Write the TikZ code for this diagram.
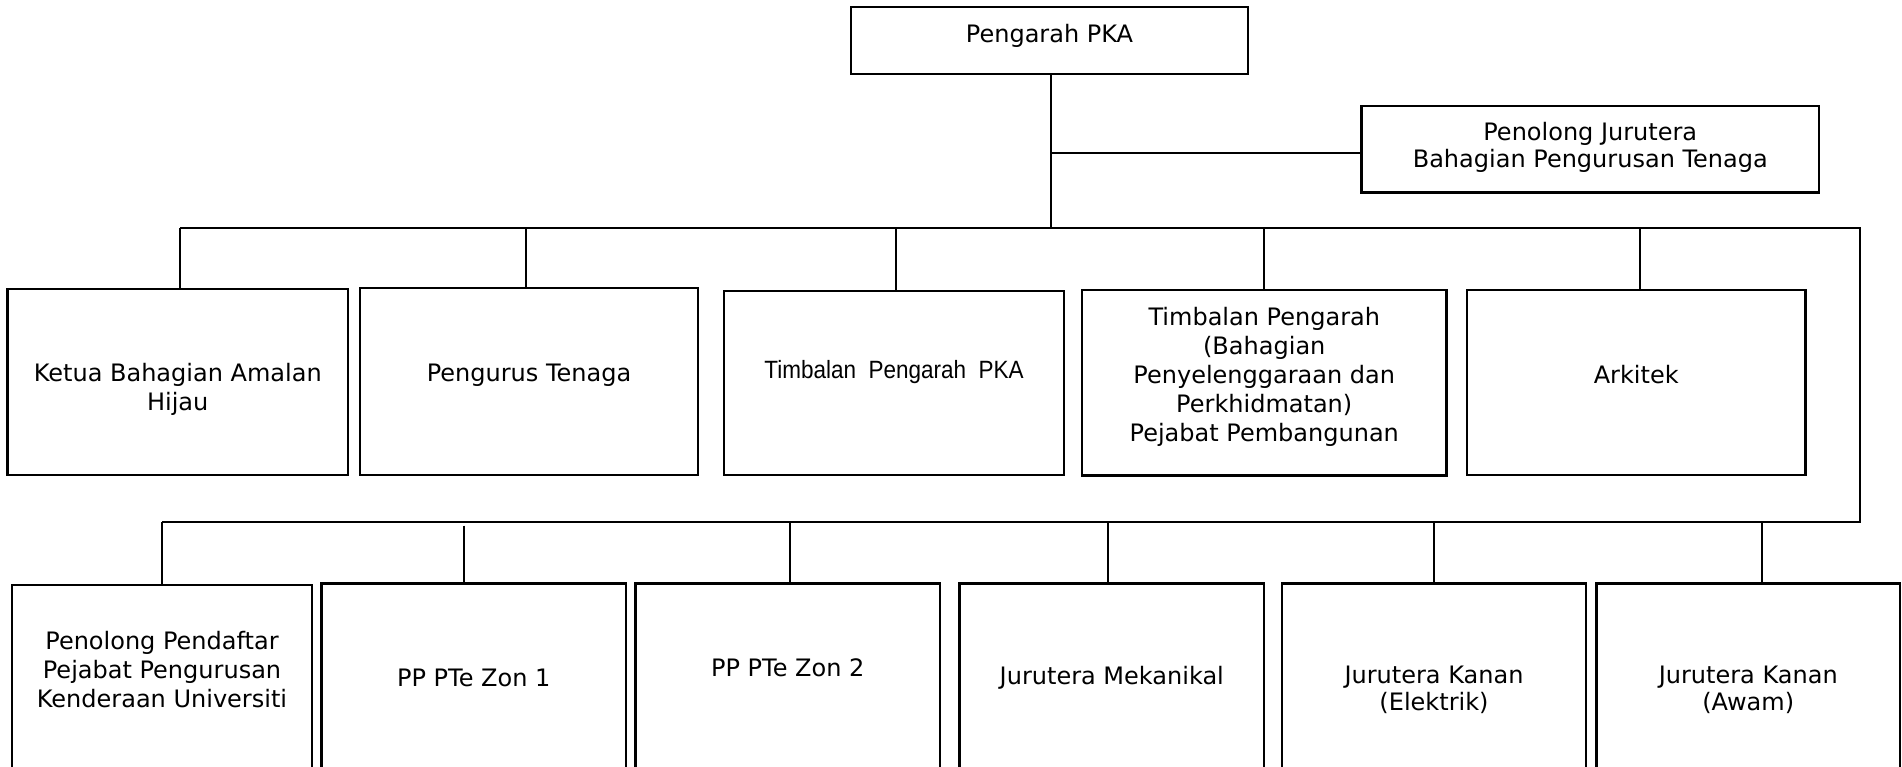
\documentclass[tikz,border=0pt]{standalone}
\usepackage{fontspec}
\setmainfont{DejaVu Sans}
\newfontfamily\arialf{Liberation Sans}[FakeStretch=0.9]
\usetikzlibrary{fit}
\begin{document}
\begin{tikzpicture}[x=1pt,y=-1pt,
  box/.style={draw, line width=2.4pt, inner sep=0pt},
  lbl/.style={align=center, font=\fontsize{24}{29}\selectfont, inner sep=0pt},
  tight/.style={font=\fontsize{24}{26.7}\selectfont},
  bus/.style={line width=2.4pt},
  drop/.style={line width=2pt}]
\useasboundingbox (0,0) rectangle (1902,767);
\clip (0,0) rectangle (1902,767);
% boxes
\node[box, fit={(851,7.3)(1248,74)}] (top) {};
\node[box, fit={(1361.5,106)(1819,192.5)}] (pen) {};
\node[box, fit={(7.5,289)(348,475)}] (a1) {};
\node[box, fit={(360,288)(698,475)}] (a2) {};
\node[box, fit={(724,291)(1064,475)}] (a3) {};
\node[box, fit={(1082,290)(1446.5,475.5)}] (a4) {};
\node[box, fit={(1467,290)(1805.5,475)}] (a5) {};
\node[box, fit={(12,585)(312,800)}] (b1) {};
\node[box, fit={(321.5,583.3)(626,800)}] (b2) {};
\node[box, fit={(635.6,583.3)(940,800)}] (b3) {};
\node[box, fit={(959.6,583.3)(1264,800)}] (b4) {};
\node[box, fit={(1282,583.3)(1586,800)}] (b5) {};
\node[box, fit={(1596.4,583.3)(1900,800)}] (b6) {};
% texts
\node[lbl] (ttop) at (top.center |- 0,36) {Pengarah PKA};
\node[lbl, tight] (tpen) at (pen.center |- 0,147.5) {Penolong Jurutera\\Bahagian Pengurusan Tenaga};
\node[lbl] (ta1) at (a1.center |- 0,389) {Ketua Bahagian Amalan\\Hijau};
\node[lbl] (ta2) at (a2.center |- 0,375) {Pengurus Tenaga};
\node[inner sep=0pt, font=\arialf\fontsize{25}{29}\selectfont] (ta3) at (a3.center |- 0,372) {Timbalan~~Pengarah~~PKA};
\node[lbl] (ta4) at (a4.center |- 0,377) {Timbalan Pengarah\\(Bahagian\\Penyelenggaraan dan\\Perkhidmatan)\\Pejabat Pembangunan};
\node[lbl] (ta5) at (a5.center |- 0,375) {Arkitek};
\node[lbl] (tb1) at (b1.center |- 0,670) {Penolong Pendaftar\\Pejabat Pengurusan\\Kenderaan Universiti};
\node[lbl] (tb2) at (b2.center |- 0,678) {PP PTe Zon 1};
\node[lbl] (tb3) at (b3.center |- 0,668) {PP PTe Zon 2};
\node[lbl] (tb4) at (b4.center |- 0,678) {Jurutera Mekanikal};
\node[lbl, tight] (tb5) at (b5.center |- 0,690) {Jurutera Kanan\\(Elektrik)};
\node[lbl, tight] (tb6) at (b6.center |- 0,690) {Jurutera Kanan\\(Awam)};
% bus coordinates
\coordinate (L1) at (180,228);
\coordinate (R1) at (1860,228);
\coordinate (L2) at (162,521.7);
\coordinate (R2) at (1860,521.7);
\coordinate (J) at (1050.5,152.7);
\draw[bus] (L1) -- (R1) -- (R2) -- (L2);
% main trunk
\draw[drop] (top.south -| J) -- (J |- L1);
\draw[drop] (J) -- (J -| pen.west);
% row 1 drops
\coordinate (p1) at (180,228);
\coordinate (p2) at (526,228);
\coordinate (p3) at (896,228);
\coordinate (p4) at (1264,228);
\coordinate (p5) at (1640,228);
\draw[drop] (p1) -- (p1 |- a1.north);
\draw[drop] (p2) -- (p2 |- a2.north);
\draw[drop] (p3) -- (p3 |- a3.north);
\draw[drop] (p4) -- (p4 |- a4.north);
\draw[drop] (p5) -- (p5 |- a5.north);
% row 2 drops
\coordinate (q1) at (162,521.7);
\coordinate (q2) at (463.5,525.5);
\coordinate (q3) at (790,521.7);
\coordinate (q4) at (1107.5,521.7);
\coordinate (q5) at (1434,521.7);
\coordinate (q6) at (1762,521.7);
\draw[drop] (q1) -- (q1 |- b1.north);
\draw[drop] (q2) -- (q2 |- b2.north);
\draw[drop] (q3) -- (q3 |- b3.north);
\draw[drop] (q4) -- (q4 |- b4.north);
\draw[drop] (q5) -- (q5 |- b5.north);
\draw[drop] (q6) -- (q6 |- b6.north);
\end{tikzpicture}
\end{document}
